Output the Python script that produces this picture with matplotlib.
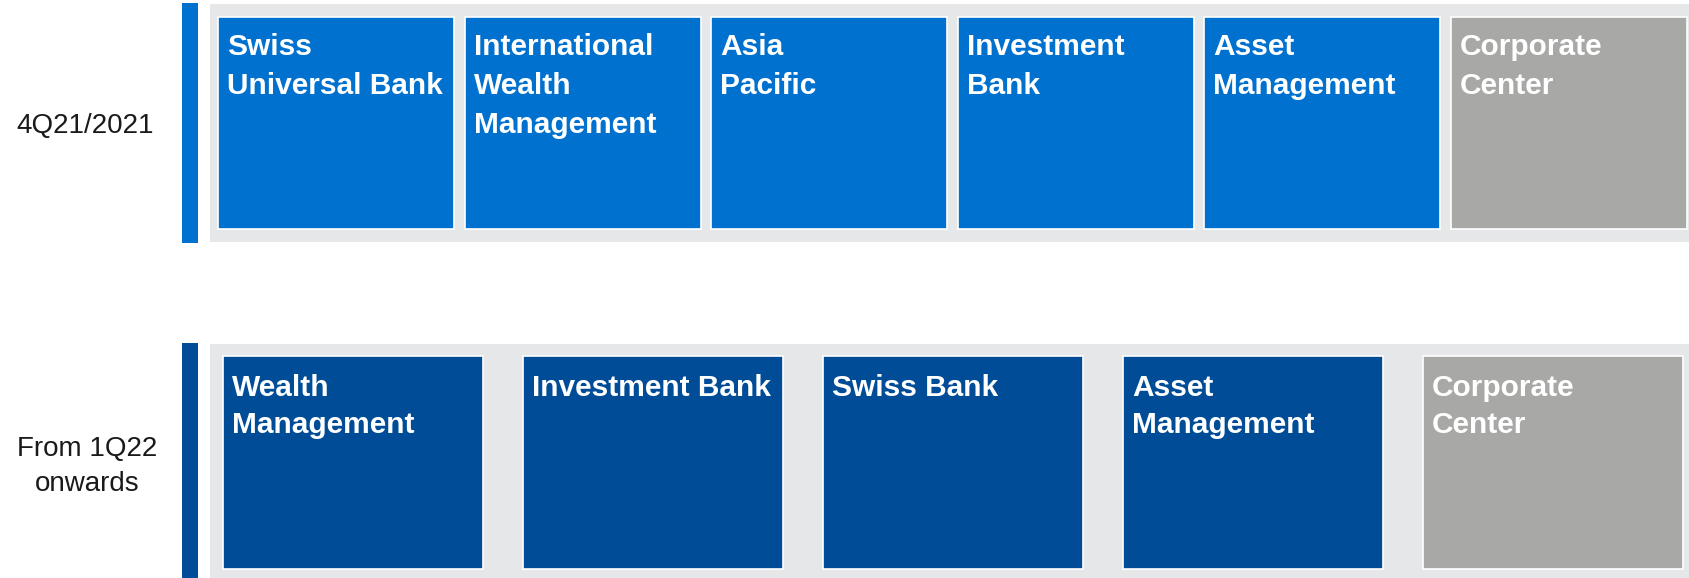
import matplotlib
matplotlib.use("Agg")
import matplotlib.pyplot as plt
from matplotlib.patches import Rectangle

# ---------------------------------------------------------------------------
# Data
# ---------------------------------------------------------------------------
old_period = ["4Q21/2021"]
old_segments = ["Swiss\nUniversal Bank", "International\nWealth\nManagement",
                "Asia\nPacific", "Investment\nBank", "Asset\nManagement",
                "Corporate\nCenter"]
old_is_division = [True, True, True, True, True, False]

new_period = ["From 1Q22", "onwards"]
new_segments = ["Wealth\nManagement", "Investment Bank", "Swiss Bank",
                "Asset\nManagement", "Corporate\nCenter"]
new_is_division = [True, True, True, True, False]

# ---------------------------------------------------------------------------
# Style / layout (pixel units, figure is 1689 x 578 at dpi 100)
# ---------------------------------------------------------------------------
W, H = 1689, 578
PANEL_GRAY = "#e6e7e9"
CC_GRAY = "#a8a8a6"
OLD_BLUE = "#0071ce"
NEW_BLUE = "#004c97"
FONT = ["Liberation Sans", "DejaVu Sans"]

rows = [
    dict(period=old_period, segments=old_segments, division=old_is_division,
         blue=OLD_BLUE, bar=(182, 3, 16, 240), panel=(210, 4, W - 210, 238),
         box_left=218, box_pitch=246.6, box_w=236, box_top=17, box_h=212,
         text_dx=9, text_dy=38, line_h=39, label_x=85, label_y=133, label_lh=35),
    dict(period=new_period, segments=new_segments, division=new_is_division,
         blue=NEW_BLUE, bar=(182, 343, 16, H - 343), panel=(210, 344, W - 210, H - 344),
         box_left=223, box_pitch=300, box_w=260, box_top=356, box_h=213,
         text_dx=9, text_dy=40, line_h=37, label_x=87, label_y=456, label_lh=35),
]


def draw_row(ax, r):
    bx, by, bw, bh = r["bar"]
    ax.add_patch(Rectangle((bx, by), bw, bh, facecolor=r["blue"], edgecolor="none"))
    px, py, pw, ph = r["panel"]
    ax.add_patch(Rectangle((px, py), pw, ph, facecolor=PANEL_GRAY, edgecolor="none"))

    for i, (name, is_div) in enumerate(zip(r["segments"], r["division"])):
        x0 = r["box_left"] + i * r["box_pitch"]
        color = r["blue"] if is_div else CC_GRAY
        ax.add_patch(Rectangle((x0, r["box_top"]), r["box_w"], r["box_h"],
                               facecolor=color, edgecolor="white", lw=1.2))
        for j, line in enumerate(name.split("\n")):
            ax.text(x0 + r["text_dx"], r["box_top"] + r["text_dy"] + j * r["line_h"],
                    line, color="white", fontsize=21.5, fontweight="bold",
                    family=FONT, ha="left", va="baseline")

    for j, line in enumerate(r["period"]):
        ax.text(r["label_x"], r["label_y"] + j * r["label_lh"], line,
                color="#1a1a1a", fontsize=20, family=FONT,
                ha="center", va="baseline")


fig = plt.figure(figsize=(W / 100, H / 100), dpi=100)
ax = fig.add_axes([0, 0, 1, 1])
ax.set_xlim(0, W)
ax.set_ylim(H, 0)
ax.axis("off")

for r in rows:
    draw_row(ax, r)

fig.savefig("out.png", dpi=100, facecolor="white")
